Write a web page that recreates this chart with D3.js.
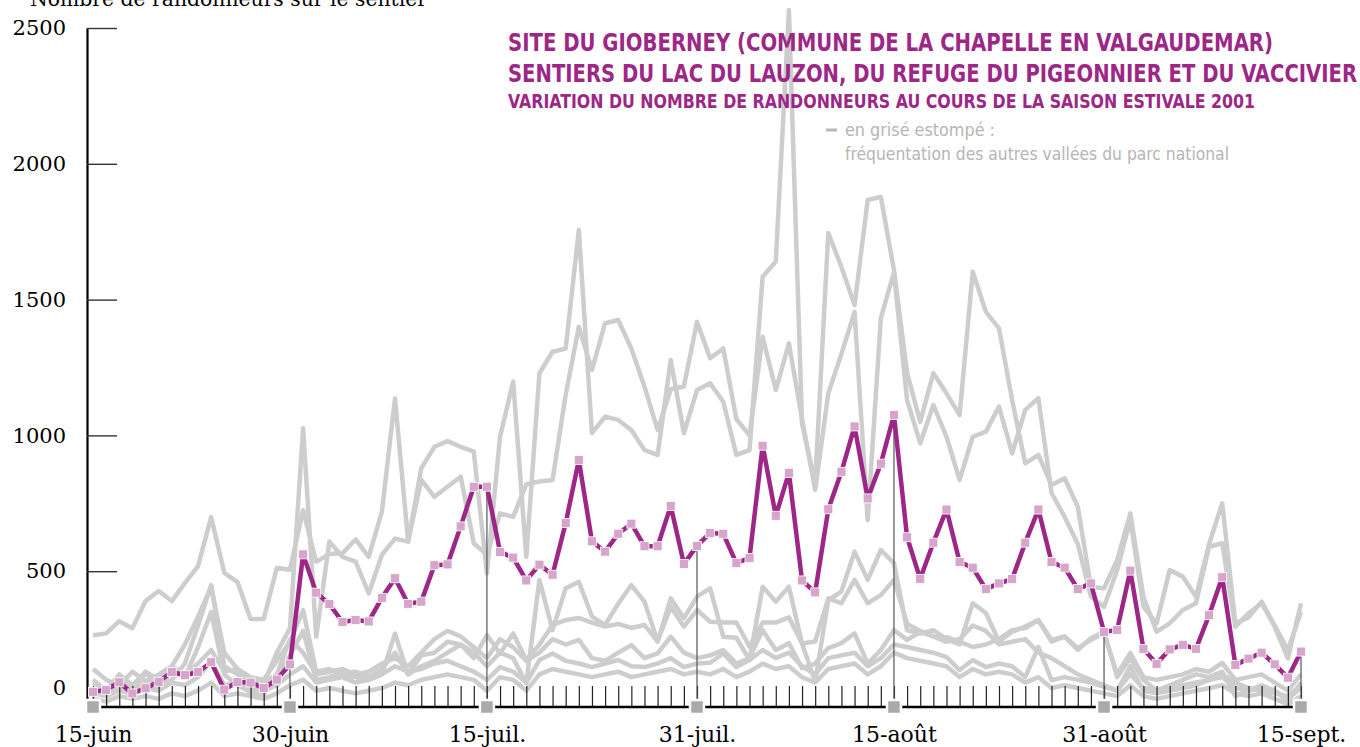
<!DOCTYPE html>
<html>
<head>
<meta charset="utf-8">
<script src="https://cdn.jsdelivr.net/npm/d3@7"></script>
<style>
  html, body { margin: 0; padding: 0; background: #fff; }
  svg { display: block; }
</style>
</head>
<body>
<div id="chart"></div>
<script>
const majorDates = ['2001-06-15', '2001-06-30', '2001-07-15', '2001-07-31', '2001-08-15', '2001-08-31', '2001-09-15'];
const majorLabels = ['15-juin', '30-juin', '15-juil.', '31-juil.', '15-août', '31-août', '15-sept.'];
const yTicks = [0, 500, 1000, 1500, 2000, 2500];

// Gioberney, daily walkers from 15 June to 15 September
const gioberney = [
  56, 63, 91, 50, 69, 93, 129, 117, 129, 165,
  64, 92, 90, 70, 101, 157, 562, 421, 379, 313,
  320, 315, 402, 474, 380, 388, 522, 525, 665, 811,
  811, 571, 550, 466, 524, 487, 677, 909, 610, 572,
  638, 675, 592, 592, 740, 527, 593, 641, 638, 530,
  549, 962, 704, 862, 466, 422, 728, 866, 1033, 768,
  896, 1075, 625, 472, 605, 727, 534, 513, 434, 455,
  471, 605, 727, 534, 513, 434, 455, 276, 284, 502,
  214, 159, 212, 229, 214, 338, 478, 155, 178, 200,
  157, 108, 204
];

// other valleys of the national park (greyed)
const valleyA = [
  264, 271, 316, 290, 390, 427, 390, 456, 519, 699,
  494, 460, 324, 324, 512, 505, 725, 535, 563, 566,
  617, 553, 719, 1136, 609, 879, 958, 979, 958, 940,
  492, 995, 1198, 553, 1229, 1308, 1320, 1756, 1008, 1069,
  1057, 1020, 946, 928, 1278, 1008, 1167, 1192, 1124, 928,
  946, 1584, 1640, 2566, 1044, 823, 1745, 1620, 1480, 1867,
  1878, 1609, 1230, 1050, 1229, 1155, 1075, 1603, 1455, 1394,
  1130, 897, 928, 817, 842, 737, 443, 437, 541, 713,
  406, 277, 308, 357, 382, 590, 603, 296, 345, 382,
  296, 179, 382
];
const valleyB = [
  100, 62, 110, 65, 85, 75, 100, 160, 300, 449,
  150, 120, 100, 85, 200, 290, 1026, 259, 609, 553,
  535, 418, 560, 620, 609, 836, 774, 811, 848, 603,
  560, 713, 700, 820, 830, 836, 1150, 1400, 1241, 1413,
  1425, 1320, 1180, 1020, 1170, 1180, 1418, 1284, 1320, 1060,
  1000, 1363, 1167, 1339, 1060, 800, 1155, 1300, 1455, 688,
  1432, 1600, 1130, 971, 1112, 995, 836, 995, 1014, 1106,
  934, 1094, 1137, 788, 700, 600, 406, 369, 504, 690,
  369, 308, 504, 480, 406, 600, 750, 308, 330, 388,
  300, 210, 351
];
const valleyC = [
  140, 100, 80, 130, 95, 120, 150, 230, 333, 443,
  200, 140, 110, 100, 170, 240, 357, 130, 140, 120,
  110, 100, 120, 270, 120, 150, 170, 200, 230, 200,
  150, 200, 180, 87, 468, 283, 437, 461, 333, 302,
  380, 449, 388, 241, 400, 327, 406, 437, 259, 255,
  173, 443, 388, 443, 234, 93, 394, 425, 572, 468,
  578, 530, 283, 270, 283, 250, 230, 382, 346, 241,
  277, 296, 320, 241, 259, 210, 253, 277, 110, 180,
  100, 60, 80, 100, 120, 110, 130, 40, 60, 80,
  60, 20, 90
];
const valleyD = [
  60, 50, 70, 40, 130, 60, 140, 110, 220, 350,
  120, 80, 55, 45, 110, 190, 280, 100, 110, 125,
  130, 110, 140, 200, 120, 190, 200, 240, 230, 180,
  265, 197, 271, 173, 230, 302, 320, 328, 311, 296,
  306, 291, 302, 241, 369, 296, 357, 314, 311, 311,
  222, 311, 311, 330, 234, 241, 400, 382, 468, 382,
  412, 468, 306, 280, 260, 240, 250, 300, 280, 230,
  240, 250, 200, 180, 150, 120, 100, 80, 60, 150,
  60, 50, 60, 70, 80, 100, 120, 90, 70, 60,
  50, 40, 80
];
const valleyE = [
  90, 60, 120, 80, 130, 100, 150, 120, 160, 210,
  130, 140, 100, 90, 120, 250, 200, 120, 130, 140,
  120, 130, 160, 180, 150, 200, 250, 280, 260, 220,
  180, 250, 220, 170, 200, 250, 230, 247, 180, 170,
  200, 228, 180, 197, 259, 200, 180, 190, 210, 160,
  180, 283, 210, 235, 143, 160, 217, 235, 271, 160,
  210, 283, 247, 276, 260, 257, 240, 221, 230, 250,
  283, 291, 320, 247, 260, 217, 247, 272, 120, 199,
  110, 100, 110, 120, 140, 130, 162, 100, 110, 120,
  90, 60, 120
];
const valleyF = [
  50, 40, 60, 50, 70, 60, 90, 80, 110, 170,
  80, 90, 70, 60, 80, 120, 150, 90, 100, 110,
  90, 100, 120, 150, 130, 140, 160, 170, 150, 130,
  100, 147, 130, 90, 173, 197, 170, 160, 147, 160,
  173, 150, 147, 160, 180, 147, 160, 163, 197, 147,
  173, 210, 180, 200, 150, 120, 180, 190, 200, 150,
  180, 230, 221, 210, 200, 184, 136, 173, 147, 160,
  150, 110, 221, 99, 110, 100, 90, 74, 60, 120,
  70, 60, 70, 80, 90, 100, 110, 70, 60, 70,
  60, 30, 70
];
const valleyG = [
  30, 20, 40, 30, 40, 30, 50, 40, 60, 90,
  40, 50, 40, 30, 50, 80, 100, 60, 70, 60,
  50, 60, 70, 90, 80, 100, 110, 120, 110, 100,
  60, 110, 100, 60, 120, 140, 130, 120, 110, 120,
  130, 110, 120, 130, 140, 120, 130, 120, 140, 110,
  130, 160, 140, 150, 110, 90, 140, 150, 160, 120,
  150, 200, 180, 170, 160, 150, 110, 140, 120, 130,
  120, 90, 110, 70, 80, 70, 60, 50, 40, 80,
  40, 30, 40, 50, 60, 70, 80, 50, 40, 50,
  30, 10, 40
];
const otherValleys = [valleyA, valleyB, valleyC, valleyD, valleyE, valleyF, valleyG];

const width = 1360;
const height = 747;
const purple = '#9d2786';

const parse = d3.utcParse('%Y-%m-%d');
const majors = majorDates.map(parse);
const days = d3.utcDay.range(majors[0], d3.utcDay.offset(majors[majors.length - 1], 1));

const x = d3.scaleUtc()
  .domain([days[0], days[days.length - 1]])
  .range([93, 1301]);

const y = d3.scaleLinear()
  .domain([0, 2500])
  .range([707, 28]);

const svg = d3.select('#chart').append('svg')
  .attr('width', width)
  .attr('height', height);

const line = d3.line()
  .x((d, i) => x(days[i]))
  .y(d => y(d));

// grey series of the other valleys
svg.append('g')
  .selectAll('path')
  .data(otherValleys)
  .enter()
  .append('path')
  .attr('d', line)
  .attr('fill', 'none')
  .attr('stroke', '#cdcdcd')
  .attr('stroke-width', 4.5)
  .attr('stroke-linejoin', 'round');

// day ticks along the bottom
const xAxis = svg.append('g')
  .attr('transform', `translate(0, ${y(0)})`)
  .call(d3.axisBottom(x).tickValues(days).tickSize(-21).tickFormat('').tickSizeOuter(0));
xAxis.select('.domain').remove();
xAxis.selectAll('.tick line').attr('stroke', '#222').attr('stroke-width', 1.2);

svg.append('line')
  .attr('x1', 87).attr('x2', x(days[days.length - 1]))
  .attr('y1', y(0)).attr('y2', y(0))
  .attr('stroke', '#000')
  .attr('stroke-width', 2.5);

// drop lines at the dated ticks
svg.append('g')
  .selectAll('line')
  .data(majors)
  .enter()
  .append('line')
  .attr('x1', d => x(d)).attr('x2', d => x(d))
  .attr('y1', y(0))
  .attr('y2', d => y(gioberney[d3.utcDay.count(days[0], d)]))
  .attr('stroke', '#555')
  .attr('stroke-width', 1.2);

// y axis
const yAxis = svg.append('g')
  .attr('transform', 'translate(87, 0)')
  .call(d3.axisLeft(y).tickValues(yTicks).tickFormat(d3.format('d'))
    .tickSize(-30).tickSizeOuter(0).tickPadding(21));
yAxis.select('.domain').attr('stroke', '#000').attr('stroke-width', 2.2);
yAxis.selectAll('.tick line').attr('stroke', '#333').attr('stroke-width', 1.4);
yAxis.selectAll('.tick').filter(d => d === 0).select('line').remove();
yAxis.selectAll('.tick').filter(d => d === 0).select('text').attr('y', -19);
yAxis.selectAll('.tick text')
  .attr('font-family', "'DejaVu Serif', serif")
  .attr('font-size', 21)
  .attr('fill', '#000');

svg.append('text')
  .attr('x', 30)
  .attr('y', 6)
  .attr('font-family', "'DejaVu Serif', serif")
  .attr('font-size', 21)
  .attr('textLength', 397)
  .attr('lengthAdjust', 'spacingAndGlyphs')
  .text('Nombre de randonneurs sur le sentier');

// Gioberney series
svg.append('path')
  .datum(gioberney)
  .attr('d', line)
  .attr('fill', 'none')
  .attr('stroke', purple)
  .attr('stroke-width', 4.5)
  .attr('stroke-linejoin', 'round');

svg.append('g')
  .selectAll('rect')
  .data(gioberney)
  .enter()
  .append('rect')
  .attr('x', (d, i) => x(days[i]) - 4.5)
  .attr('y', d => y(d) - 4.5)
  .attr('width', 9)
  .attr('height', 9)
  .attr('fill', '#d6a5ca')
  .attr('stroke', '#fff')
  .attr('stroke-width', 0.8);

// dated squares and labels
svg.append('g')
  .selectAll('rect')
  .data(majors)
  .enter()
  .append('rect')
  .attr('x', d => x(d) - 7)
  .attr('y', y(0) - 7)
  .attr('width', 14)
  .attr('height', 14)
  .attr('fill', '#aaa')
  .attr('stroke', '#fff')
  .attr('stroke-width', 2.5);

const labelAxis = svg.append('g')
  .attr('transform', `translate(0, ${y(0)})`)
  .call(d3.axisBottom(x).tickValues(majors).tickSize(0).tickPadding(19)
    .tickFormat((d, i) => majorLabels[i]));
labelAxis.select('.domain').remove();
labelAxis.selectAll('text')
  .attr('font-family', "'DejaVu Serif', serif")
  .attr('font-size', 22)
  .attr('fill', '#000');

// titles
const titles = [
  { text: 'SITE DU GIOBERNEY (COMMUNE DE LA CHAPELLE EN VALGAUDEMAR)', y: 51, size: 24, len: 765 },
  { text: 'SENTIERS DU LAC DU LAUZON, DU REFUGE DU PIGEONNIER ET DU VACCIVIER', y: 82, size: 24, len: 849 },
  { text: 'VARIATION DU NOMBRE DE RANDONNEURS AU COURS DE LA SAISON ESTIVALE 2001', y: 108, size: 19.5, len: 747 }
];
svg.append('g')
  .selectAll('text')
  .data(titles)
  .enter()
  .append('text')
  .attr('x', 508)
  .attr('y', d => d.y)
  .attr('font-family', "'Liberation Sans Narrow', 'DejaVu Sans Condensed', Roboto, sans-serif")
  .attr('font-weight', 'bold')
  .attr('font-size', d => d.size)
  .attr('textLength', d => d.len)
  .attr('lengthAdjust', 'spacingAndGlyphs')
  .attr('fill', purple)
  .text(d => d.text);

svg.append('line')
  .attr('x1', 826).attr('x2', 837)
  .attr('y1', 130).attr('y2', 130)
  .attr('stroke', '#b8b8b8')
  .attr('stroke-width', 3);

const notes = [
  { text: 'en grisé estompé :', y: 136, len: 150 },
  { text: 'fréquentation des autres vallées du parc national', y: 160, len: 384 }
];
svg.append('g')
  .selectAll('text')
  .data(notes)
  .enter()
  .append('text')
  .attr('x', 845)
  .attr('y', d => d.y)
  .attr('font-family', "'Liberation Sans Narrow', 'DejaVu Sans Condensed', Roboto, sans-serif")
  .attr('font-size', 17)
  .attr('textLength', d => d.len)
  .attr('lengthAdjust', 'spacingAndGlyphs')
  .attr('fill', '#b5b5b5')
  .text(d => d.text);
</script>
</body>
</html>
